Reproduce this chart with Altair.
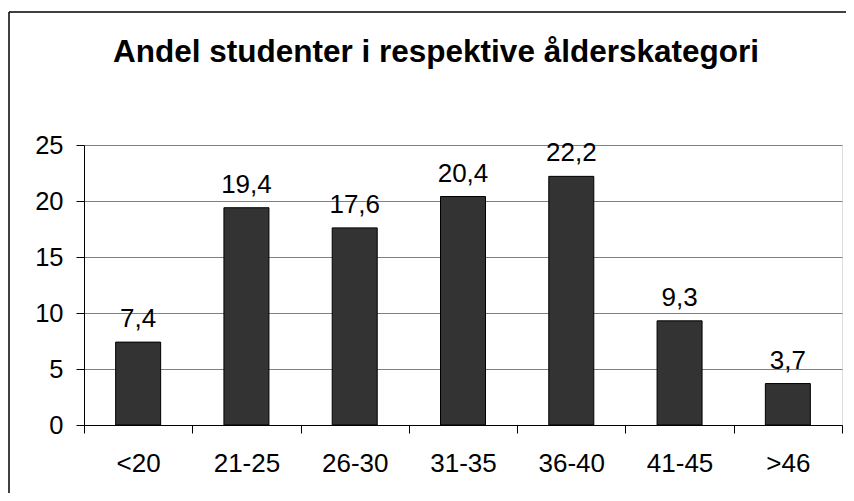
import altair as alt
import pandas as pd

title_text = "Andel studenter i respektive ålderskategori"
categories = ["<20", "21-25", "26-30", "31-35", "36-40", "41-45", ">46"]
values = [7.4, 19.4, 17.6, 20.4, 22.2, 9.3, 3.7]
y_ticks = [0, 5, 10, 15, 20, 25]

df = pd.DataFrame({"kat": categories, "andel": values})

FONT = "Liberation Sans"

x_enc = alt.X(
    "kat:N",
    sort=categories,
    scale=alt.Scale(paddingInner=0, paddingOuter=0),
    axis=alt.Axis(
        title=None,
        labelAngle=0,
        labelFont=FONT,
        labelFontSize=26,
        labelColor="black",
        labelPadding=17,
        tickBand="extent",
        tickSize=8,
        tickColor="black",
        domainColor="black",
        grid=False,
    ),
)
y_enc = alt.Y(
    "andel:Q",
    scale=alt.Scale(domain=[0, 25], nice=False),
    axis=alt.Axis(
        title=None,
        values=y_ticks,
        labelFont=FONT,
        labelFontSize=25.5,
        labelColor="black",
        labelPadding=13,
        tickSize=8,
        tickColor="black",
        domainColor="black",
        grid=True,
        gridColor="#808080",
        gridWidth=1,
    ),
)

bars = alt.Chart(df).mark_bar(
    width=45, color="#333333", stroke="black", strokeWidth=1
).encode(x=x_enc, y=y_enc)

labels = alt.Chart(df).transform_calculate(
    lab="replace(format(datum.andel, '.1f'), '.', ',')"
).mark_text(
    font=FONT, fontSize=26, color="black", baseline="alphabetic", dy=-15
).encode(
    x=alt.X("kat:N", sort=categories),
    y="andel:Q",
    text="lab:N",
)

title = alt.Chart(pd.DataFrame({"t": [title_text]})).mark_text(
    font=FONT, fontSize=31.5, fontWeight="bold", color="black", baseline="alphabetic", align="center"
).encode(x=alt.value(352), y=alt.value(-83), text="t:N")

border_top = alt.Chart(pd.DataFrame({"a": [0]})).mark_rule(
    color="black", strokeWidth=1.5
).encode(x=alt.value(-75), x2=alt.value(770), y=alt.value(-133))
border_left = alt.Chart(pd.DataFrame({"a": [0]})).mark_rule(
    color="black", strokeWidth=1.5
).encode(x=alt.value(-75), y=alt.value(-133), y2=alt.value(360))

chart = alt.layer(bars, labels, title, border_top, border_left).properties(
    width=758,
    height=280,
    autosize=alt.AutoSizeParams(type="none"),
    padding={"left": 76, "top": 137, "right": 4, "bottom": 68},
).configure_view(
    stroke="#808080", strokeWidth=1
).configure(background="white")

chart.save("out.html", embed_options={"renderer": "svg", "actions": False})
